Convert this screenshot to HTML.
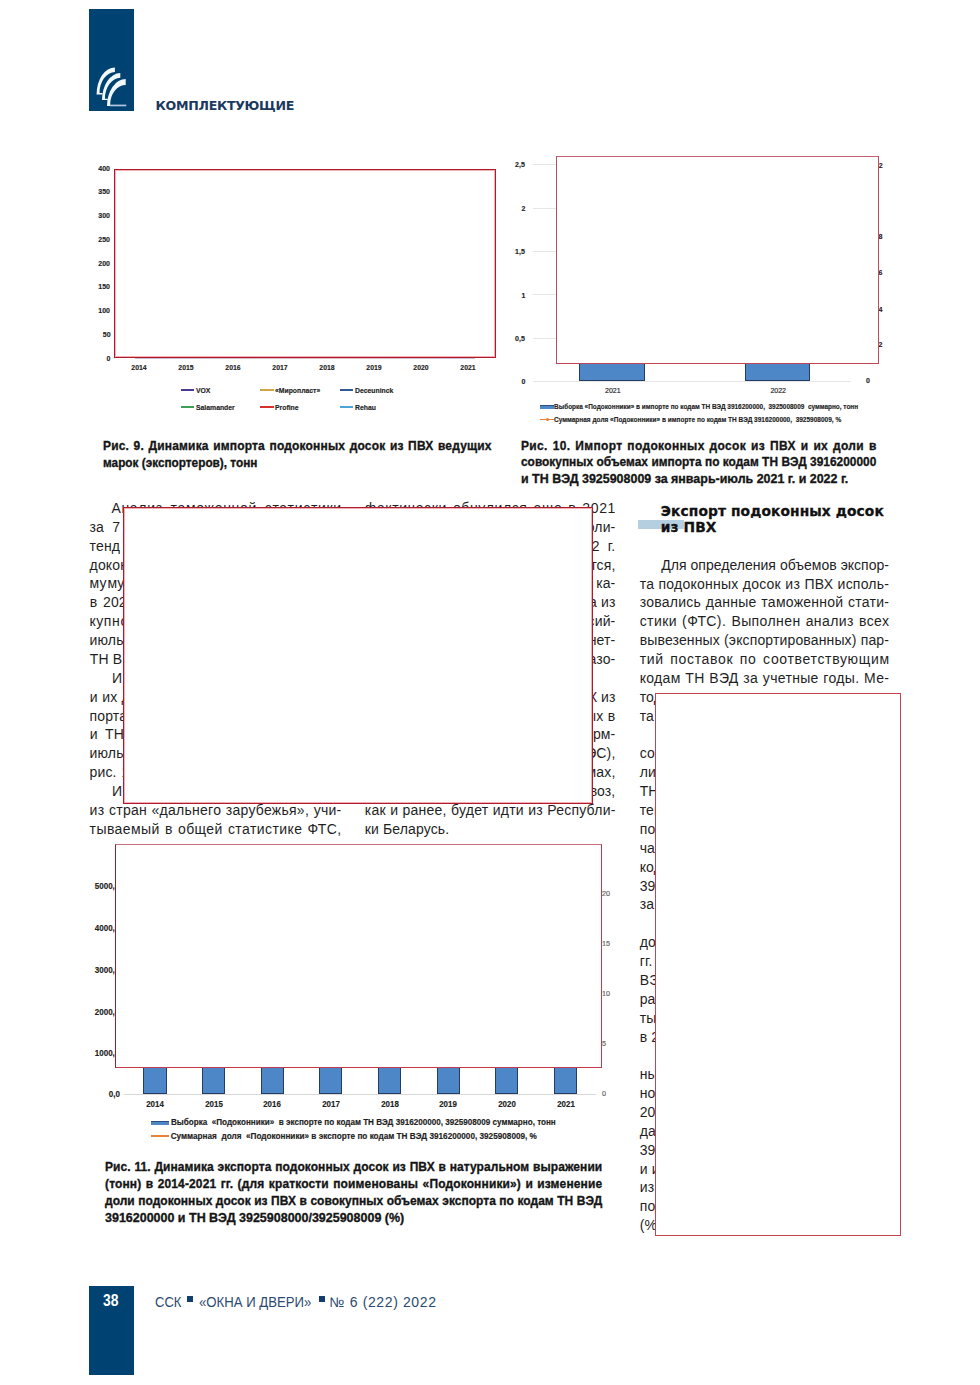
<!DOCTYPE html>
<html lang="ru">
<head>
<meta charset="utf-8">
<title>Комплектующие — экспорт и импорт подоконных досок из ПВХ</title>
<style>
html,body{margin:0;padding:0;background:#fff;}
body{width:980px;height:1385px;position:relative;overflow:hidden;font-family:"Liberation Sans",Arial,sans-serif;color:#1f1f1f;}
.a{position:absolute;white-space:nowrap;}
.box{position:absolute;background:#fff;box-sizing:border-box;}
.bd{border:1px solid #b01b2c;box-shadow:inset 0 0 0 1px rgba(232,96,112,.5);}
.bl{border:1.7px solid #c44252;}
.ck{position:absolute;font-family:"Liberation Sans",Arial,sans-serif;font-weight:bold;color:#222;white-space:nowrap;line-height:1;-webkit-text-stroke:0.15px #222;}
.t{position:absolute;white-space:nowrap;font-size:14px;letter-spacing:0.13px;line-height:16px;color:#1f1f1f;}
.jl{position:absolute;font-size:14px;line-height:16px;height:16px;color:#1f1f1f;text-align:justify;text-align-last:justify;white-space:nowrap;}
.cap{position:absolute;font-weight:bold;font-size:13.3px;line-height:15px;height:15px;color:#151515;-webkit-text-stroke:0.35px #151515;transform-origin:0 0;white-space:nowrap;}
.capj{text-align:justify;text-align-last:justify;white-space:nowrap;}
</style>
</head>
<body>
<div style="position:absolute;left:89px;top:9px;width:45px;height:102px;background:#004272;"></div>
<svg style="position:absolute;left:0;top:0" width="140" height="115" viewBox="0 0 140 115">
  <g fill="#f2f7fc">
    <path d="M114.9,67.4 A18.3,27 0 0 0 96.6,94.4 L102.4,94.4 L102.4,93 L99.5,93 A15.4,20.9 0 0 1 114.9,72.1 Z"/>
    <path transform="translate(5.4,5.7)" d="M114.9,67.4 A18.3,27 0 0 0 96.6,94.4 L102.4,94.4 L102.4,93 L99.5,93 A15.4,20.9 0 0 1 114.9,72.1 Z"/>
    <path d="M125.7,79 A18.7,27 0 0 0 107,106 L110.2,106 L110.2,104.5 A15.5,19.6 0 0 1 125.7,84.9 Z"/>
  </g>
  <rect x="110" y="104.6" width="16.3" height="1.7" fill="#b2c8e0"/>
</svg>
<div class="a" style="left:155.6px;top:97.6px;font-family:'DejaVu Sans',sans-serif;font-size:12.6px;line-height:16px;font-weight:bold;letter-spacing:-0.3px;color:#1b395e;">КОМПЛЕКТУЮЩИЕ</div>
<div class="ck" style="right:869.60px;transform-origin:100% 0;top:164.59px;font-size:7.8px;transform:scaleX(0.9);">400</div>
<div class="ck" style="right:869.60px;transform-origin:100% 0;top:188.37px;font-size:7.8px;transform:scaleX(0.9);">350</div>
<div class="ck" style="right:869.60px;transform-origin:100% 0;top:212.15px;font-size:7.8px;transform:scaleX(0.9);">300</div>
<div class="ck" style="right:869.60px;transform-origin:100% 0;top:235.93px;font-size:7.8px;transform:scaleX(0.9);">250</div>
<div class="ck" style="right:869.60px;transform-origin:100% 0;top:259.71px;font-size:7.8px;transform:scaleX(0.9);">200</div>
<div class="ck" style="right:869.60px;transform-origin:100% 0;top:283.49px;font-size:7.8px;transform:scaleX(0.9);">150</div>
<div class="ck" style="right:869.60px;transform-origin:100% 0;top:307.27px;font-size:7.8px;transform:scaleX(0.9);">100</div>
<div class="ck" style="right:869.60px;transform-origin:100% 0;top:331.05px;font-size:7.8px;transform:scaleX(0.9);">50</div>
<div class="ck" style="right:869.60px;transform-origin:100% 0;top:354.83px;font-size:7.8px;transform:scaleX(0.9);">0</div>
<div class="ck" style="left:140.00px;transform-origin:0 0;top:363.99px;font-size:7.8px;transform:translateX(-50%) scaleX(0.88);">2014</div>
<div class="ck" style="left:187.00px;transform-origin:0 0;top:363.99px;font-size:7.8px;transform:translateX(-50%) scaleX(0.88);">2015</div>
<div class="ck" style="left:234.00px;transform-origin:0 0;top:363.99px;font-size:7.8px;transform:translateX(-50%) scaleX(0.88);">2016</div>
<div class="ck" style="left:281.00px;transform-origin:0 0;top:363.99px;font-size:7.8px;transform:translateX(-50%) scaleX(0.88);">2017</div>
<div class="ck" style="left:328.00px;transform-origin:0 0;top:363.99px;font-size:7.8px;transform:translateX(-50%) scaleX(0.88);">2018</div>
<div class="ck" style="left:375.00px;transform-origin:0 0;top:363.99px;font-size:7.8px;transform:translateX(-50%) scaleX(0.88);">2019</div>
<div class="ck" style="left:422.00px;transform-origin:0 0;top:363.99px;font-size:7.8px;transform:translateX(-50%) scaleX(0.88);">2020</div>
<div class="ck" style="left:469.00px;transform-origin:0 0;top:363.99px;font-size:7.8px;transform:translateX(-50%) scaleX(0.88);">2021</div>
<div style="position:absolute;left:135px;top:357.5px;width:340px;height:1.2px;background:linear-gradient(90deg,#5a3f7f,#7a4a60 30%,#a04a4a 60%,#5a4f8a);opacity:.35"></div>
<div style="position:absolute;left:180.8px;top:388.5px;width:13.7px;height:2px;background:#4b3a93;"></div>
<div class="ck" style="left:195.80px;transform-origin:0 0;top:386.69px;font-size:7.6px;transform:scaleX(0.9);">VOX</div>
<div style="position:absolute;left:260.4px;top:388.5px;width:13.7px;height:2px;background:#d1a548;"></div>
<div class="ck" style="left:275.40px;transform-origin:0 0;top:386.69px;font-size:7.6px;transform:scaleX(0.9);">«Миропласт»</div>
<div style="position:absolute;left:339.8px;top:388.5px;width:13.7px;height:2px;background:#2f5a92;"></div>
<div class="ck" style="left:354.80px;transform-origin:0 0;top:386.69px;font-size:7.6px;transform:scaleX(0.9);">Deceuninck</div>
<div style="position:absolute;left:180.8px;top:405.5px;width:13.7px;height:2px;background:#3e9e54;"></div>
<div class="ck" style="left:195.80px;transform-origin:0 0;top:403.69px;font-size:7.6px;transform:scaleX(0.9);">Salamander</div>
<div style="position:absolute;left:260.4px;top:405.5px;width:13.7px;height:2px;background:#d9302e;"></div>
<div class="ck" style="left:275.40px;transform-origin:0 0;top:403.69px;font-size:7.6px;transform:scaleX(0.9);">Profine</div>
<div style="position:absolute;left:339.8px;top:405.5px;width:13.7px;height:2px;background:#4aa6d6;"></div>
<div class="ck" style="left:354.80px;transform-origin:0 0;top:403.69px;font-size:7.6px;transform:scaleX(0.9);">Rehau</div>
<div class="box bd" style="left:114px;top:169px;width:382px;height:189px;"></div>
<div class="ck" style="right:455.10px;transform-origin:100% 0;top:161.49px;font-size:7.8px;transform:scaleX(0.9);">2,5</div>
<div style="position:absolute;left:533px;top:164.2px;width:23px;height:1px;background:#e6e6e6;"></div>
<div class="ck" style="right:455.10px;transform-origin:100% 0;top:204.89px;font-size:7.8px;transform:scaleX(0.9);">2</div>
<div style="position:absolute;left:533px;top:207.6px;width:23px;height:1px;background:#e6e6e6;"></div>
<div class="ck" style="right:455.10px;transform-origin:100% 0;top:248.29px;font-size:7.8px;transform:scaleX(0.9);">1,5</div>
<div style="position:absolute;left:533px;top:251.0px;width:23px;height:1px;background:#e6e6e6;"></div>
<div class="ck" style="right:455.10px;transform-origin:100% 0;top:291.69px;font-size:7.8px;transform:scaleX(0.9);">1</div>
<div style="position:absolute;left:533px;top:294.4px;width:23px;height:1px;background:#e6e6e6;"></div>
<div class="ck" style="right:455.10px;transform-origin:100% 0;top:335.09px;font-size:7.8px;transform:scaleX(0.9);">0,5</div>
<div style="position:absolute;left:533px;top:337.8px;width:23px;height:1px;background:#e6e6e6;"></div>
<div class="ck" style="right:455.10px;transform-origin:100% 0;top:378.49px;font-size:7.8px;transform:scaleX(0.9);">0</div>
<div style="position:absolute;left:533px;top:381.2px;width:318px;height:1px;background:#e6e6e6;"></div>
<div style="position:absolute;left:579.3px;top:355px;width:65.6px;height:25.5px;box-sizing:border-box;background:#4d87c7;border:1.3px solid #233e62;"></div>
<div style="position:absolute;left:744.8px;top:355px;width:65.7px;height:25.5px;box-sizing:border-box;background:#4d87c7;border:1.3px solid #233e62;"></div>
<div class="ck" style="left:605px;top:386.6px;font-size:7px;font-weight:normal;">2021</div>
<div class="ck" style="left:770.4px;top:386.6px;font-size:7px;font-weight:normal;">2022</div>
<div class="ck" style="right:97.40px;transform-origin:100% 0;top:161.99px;font-size:7.8px;transform:scaleX(0.9);">12</div>
<div class="ck" style="right:97.40px;transform-origin:100% 0;top:233.19px;font-size:7.8px;transform:scaleX(0.9);">8</div>
<div class="ck" style="right:97.40px;transform-origin:100% 0;top:269.49px;font-size:7.8px;transform:scaleX(0.9);">6</div>
<div class="ck" style="right:97.40px;transform-origin:100% 0;top:305.79px;font-size:7.8px;transform:scaleX(0.9);">4</div>
<div class="ck" style="right:97.40px;transform-origin:100% 0;top:341.49px;font-size:7.8px;transform:scaleX(0.9);">2</div>
<div class="ck" style="left:865.80px;transform-origin:0 0;top:377.29px;font-size:7.8px;transform:scaleX(0.9);">0</div>
<div style="position:absolute;left:540px;top:405px;width:14px;height:4px;background:#4d87c7;border-top:1px solid #2a4f7c;box-sizing:border-box;"></div>
<div class="ck" style="left:554px;top:403.3px;font-size:7px;color:#222;transform:scaleX(0.92);transform-origin:0 0;">Выборка «Подоконники» в импорте по кодам ТН ВЭД 3916200000,&nbsp; 3925008009&nbsp; суммарно, тонн</div>
<div style="position:absolute;left:540px;top:418.8px;width:14px;height:1.6px;background:#e8823a;"></div>
<div style="position:absolute;left:545.5px;top:417.6px;width:3px;height:3px;background:#e8823a;border-radius:50%;"></div>
<div class="ck" style="left:554px;top:416.3px;font-size:7px;color:#222;transform:scaleX(0.928);transform-origin:0 0;">Суммарная доля «Подоконники» в импорте по кодам ТН ВЭД 3916200000,&nbsp; 3925908009, %</div>
<div class="box bl" style="left:555.5px;top:155.5px;width:323px;height:208.5px;border-color:#c4606f #c24c5e #c24457 #ae5464;"></div>
<div class="cap capj" style="left:103.3px;top:438.39px;width:431.9px;letter-spacing:0.222px;transform:scaleX(0.9000);">Рис. 9. Динамика импорта подоконных досок из ПВХ ведущих</div>
<div class="cap" style="left:103.3px;top:455.19px;transform:scaleX(0.8870);">марок (экспортеров), тонн</div>
<div class="cap capj" style="left:521.4px;top:437.79px;width:395.2px;letter-spacing:0.396px;transform:scaleX(0.9000);">Рис. 10. Импорт подоконных досок из ПВХ и их доли в</div>
<div class="cap capj" style="left:521.4px;top:454.29px;width:397.8px;letter-spacing:0.020px;transform:scaleX(0.8931);">совокупных объемах импорта по кодам ТН ВЭД 3916200000</div>
<div class="cap" style="left:521.4px;top:470.89px;transform:scaleX(0.9360);">и ТН ВЭД 3925908009 за январь-июль 2021 г. и 2022 г.</div>
<div class="jl" style="left:111.4px;width:230.5px;top:499.98px;letter-spacing:0.705px;">Анализ таможенной статистики</div>
<div class="t" style="left:89.5px;top:518.85px;">за</div>
<div class="t" style="left:112.3px;top:518.85px;">7</div>
<div class="t" style="left:89.6px;top:537.72px;">тенд</div>
<div class="t" style="left:89.6px;top:556.59px;">докон</div>
<div class="t" style="left:89.6px;top:575.46px;">му</div>
<div class="t" style="left:107.4px;top:575.46px;">му</div>
<div class="t" style="left:89.8px;top:594.33px;">в</div>
<div class="t" style="left:103.0px;top:594.33px;">202</div>
<div class="t" style="left:89.4px;top:613.20px;letter-spacing:0.6px;">купно</div>
<div class="t" style="left:89.6px;top:632.07px;">июль</div>
<div class="t" style="left:89.8px;top:650.94px;">ТН</div>
<div class="t" style="left:112.8px;top:650.94px;">В</div>
<div class="t" style="left:111.9px;top:669.81px;">И</div>
<div class="t" style="left:89.8px;top:688.68px;">и</div>
<div class="t" style="left:102.2px;top:688.68px;">их</div>
<div class="t" style="left:121.6px;top:688.68px;">д</div>
<div class="t" style="left:89.6px;top:707.55px;">порта</div>
<div class="t" style="left:89.8px;top:726.42px;">и</div>
<div class="t" style="left:105.0px;top:726.42px;">ТН</div>
<div class="t" style="left:89.6px;top:745.29px;">июль</div>
<div class="t" style="left:89.6px;top:764.16px;">рис.</div>
<div class="t" style="left:121.5px;top:764.16px;">1</div>
<div class="t" style="left:111.9px;top:783.03px;">И</div>
<div class="jl" style="left:89.6px;width:251.9px;top:801.90px;letter-spacing:0.260px;">из стран «дальнего зарубежья», учи-</div>
<div class="jl" style="left:89.6px;width:252.0px;top:820.77px;letter-spacing:0.415px;">тываемый в общей статистике ФТС,</div>
<div class="jl" style="left:364.8px;width:251.2px;top:499.98px;letter-spacing:0.630px;">фактически обнулился еще в 2021</div>
<div class="t" style="right:364.6px;top:518.85px;">коли-</div>
<div class="t" style="right:380.4px;top:537.72px;">2</div>
<div class="t" style="right:364.7px;top:537.72px;">г.</div>
<div class="t" style="right:364.6px;top:556.59px;">отся,</div>
<div class="t" style="right:364.6px;top:575.46px;">ка-</div>
<div class="t" style="right:383.0px;top:594.33px;">а</div>
<div class="t" style="right:364.4px;top:594.33px;">из</div>
<div class="t" style="right:364.6px;top:613.20px;">сий-</div>
<div class="t" style="right:364.6px;top:632.07px;">нет-</div>
<div class="t" style="right:364.6px;top:650.94px;">азо-</div>
<div class="t" style="right:382.5px;top:688.68px;">Х</div>
<div class="t" style="right:364.4px;top:688.68px;">из</div>
<div class="t" style="right:376.6px;top:707.55px;">ых</div>
<div class="t" style="right:364.8px;top:707.55px;">в</div>
<div class="t" style="right:364.6px;top:726.42px;">рм-</div>
<div class="t" style="right:364.6px;top:745.29px;">ЭС),</div>
<div class="t" style="right:364.6px;top:764.16px;">мах,</div>
<div class="t" style="right:364.6px;top:783.03px;">воз,</div>
<div class="jl" style="left:364.8px;width:250.8px;top:801.90px;letter-spacing:0.229px;">как и ранее, будет идти из Республи-</div>
<div class="t" style="left:364.8px;top:820.77px;">ки Беларусь.</div>
<div class="jl" style="left:661.3px;width:227.7px;top:556.75px;letter-spacing:0.010px;">Для определения объемов экспор-</div>
<div class="jl" style="left:639.7px;width:249.5px;top:575.62px;letter-spacing:0.227px;">та подоконных досок из ПВХ исполь-</div>
<div class="jl" style="left:639.7px;width:249.6px;top:594.49px;letter-spacing:0.256px;">зовались данные таможенной стати-</div>
<div class="jl" style="left:639.7px;width:249.7px;top:613.36px;letter-spacing:0.407px;">стики (ФТС). Выполнен анализ всех</div>
<div class="jl" style="left:639.7px;width:249.4px;top:632.23px;letter-spacing:0.140px;">вывезенных (экспортированных) пар-</div>
<div class="jl" style="left:639.7px;width:250.0px;top:651.10px;letter-spacing:0.659px;">тий поставок по соответствующим</div>
<div class="jl" style="left:639.7px;width:249.6px;top:669.97px;letter-spacing:0.329px;">кодам ТН ВЭД за учетные годы. Ме-</div>
<div class="t" style="left:639.7px;top:688.84px;">тод</div>
<div class="t" style="left:639.7px;top:707.71px;">та</div>
<div class="t" style="left:639.7px;top:745.45px;">сов</div>
<div class="t" style="left:639.7px;top:764.32px;">лиз</div>
<div class="t" style="left:639.7px;top:783.19px;">ТН</div>
<div class="t" style="left:639.7px;top:802.06px;">тем</div>
<div class="t" style="left:639.7px;top:820.93px;">под</div>
<div class="t" style="left:639.7px;top:839.80px;">час</div>
<div class="t" style="left:639.7px;top:858.67px;">код</div>
<div class="t" style="left:639.7px;top:877.54px;">392</div>
<div class="t" style="left:639.7px;top:896.41px;">за</div>
<div class="t" style="left:639.7px;top:934.15px;">дол</div>
<div class="t" style="left:639.7px;top:953.02px;">гг.</div>
<div class="t" style="left:639.7px;top:971.89px;">ВЭД</div>
<div class="t" style="left:639.7px;top:990.76px;">раз</div>
<div class="t" style="left:639.7px;top:1009.63px;">ты</div>
<div class="t" style="left:639.7px;top:1028.50px;">в 2</div>
<div class="t" style="left:639.7px;top:1066.24px;">ны</div>
<div class="t" style="left:639.7px;top:1085.11px;">нов</div>
<div class="t" style="left:639.7px;top:1103.98px;">20</div>
<div class="t" style="left:639.7px;top:1122.85px;">дан</div>
<div class="t" style="left:639.7px;top:1141.72px;">392</div>
<div class="t" style="left:639.7px;top:1160.59px;">и и</div>
<div class="t" style="left:639.7px;top:1179.46px;">из</div>
<div class="t" style="left:639.7px;top:1198.33px;">под</div>
<div class="t" style="left:639.7px;top:1217.20px;">(%</div>
<div style="position:absolute;left:638px;top:520.2px;width:46px;height:8.6px;background:#b6cfe0;"></div>
<div class="a" style="left:660.8px;top:502.5px;letter-spacing:0.1px;font-family:'DejaVu Sans',sans-serif;font-weight:bold;font-size:13.8px;line-height:16px;color:#111;-webkit-text-stroke:0.3px #111;">Экспорт подоконных досок<br>из ПВХ</div>
<div class="box bd" style="left:123px;top:507px;width:470px;height:297px;"></div>
<div class="box bl" style="left:655px;top:693px;width:246px;height:543px;"></div>
<div class="ck" style="right:860.50px;transform-origin:100% 0;top:881.90px;font-size:8.6px;transform:scaleX(0.93);">5000,0</div>
<div class="ck" style="right:860.50px;transform-origin:100% 0;top:923.80px;font-size:8.6px;transform:scaleX(0.93);">4000,0</div>
<div class="ck" style="right:860.50px;transform-origin:100% 0;top:965.90px;font-size:8.6px;transform:scaleX(0.93);">3000,0</div>
<div class="ck" style="right:860.50px;transform-origin:100% 0;top:1007.60px;font-size:8.6px;transform:scaleX(0.93);">2000,0</div>
<div class="ck" style="right:860.50px;transform-origin:100% 0;top:1048.70px;font-size:8.6px;transform:scaleX(0.93);">1000,0</div>
<div class="ck" style="right:860.50px;transform-origin:100% 0;top:1090.00px;font-size:8.6px;transform:scaleX(0.93);">0,0</div>
<div style="position:absolute;left:124px;top:1093.5px;width:472px;height:1px;background:#d8d8d8;"></div>
<div style="position:absolute;left:143.4px;top:1060px;width:23.2px;height:34px;box-sizing:border-box;background:#4d87c7;border:1.3px solid #233e62;"></div>
<div class="ck" style="left:156.10px;transform-origin:0 0;top:1100.00px;font-size:8.8px;transform:translateX(-50%) scaleX(0.9);">2014</div>
<div style="position:absolute;left:202.1px;top:1060px;width:23.2px;height:34px;box-sizing:border-box;background:#4d87c7;border:1.3px solid #233e62;"></div>
<div class="ck" style="left:214.75px;transform-origin:0 0;top:1100.00px;font-size:8.8px;transform:translateX(-50%) scaleX(0.9);">2015</div>
<div style="position:absolute;left:260.7px;top:1060px;width:23.2px;height:34px;box-sizing:border-box;background:#4d87c7;border:1.3px solid #233e62;"></div>
<div class="ck" style="left:273.40px;transform-origin:0 0;top:1100.00px;font-size:8.8px;transform:translateX(-50%) scaleX(0.9);">2016</div>
<div style="position:absolute;left:319.3px;top:1060px;width:23.2px;height:34px;box-sizing:border-box;background:#4d87c7;border:1.3px solid #233e62;"></div>
<div class="ck" style="left:332.05px;transform-origin:0 0;top:1100.00px;font-size:8.8px;transform:translateX(-50%) scaleX(0.9);">2017</div>
<div style="position:absolute;left:378.0px;top:1060px;width:23.2px;height:34px;box-sizing:border-box;background:#4d87c7;border:1.3px solid #233e62;"></div>
<div class="ck" style="left:390.70px;transform-origin:0 0;top:1100.00px;font-size:8.8px;transform:translateX(-50%) scaleX(0.9);">2018</div>
<div style="position:absolute;left:436.6px;top:1060px;width:23.2px;height:34px;box-sizing:border-box;background:#4d87c7;border:1.3px solid #233e62;"></div>
<div class="ck" style="left:449.35px;transform-origin:0 0;top:1100.00px;font-size:8.8px;transform:translateX(-50%) scaleX(0.9);">2019</div>
<div style="position:absolute;left:495.3px;top:1060px;width:23.2px;height:34px;box-sizing:border-box;background:#4d87c7;border:1.3px solid #233e62;"></div>
<div class="ck" style="left:508.00px;transform-origin:0 0;top:1100.00px;font-size:8.8px;transform:translateX(-50%) scaleX(0.9);">2020</div>
<div style="position:absolute;left:553.9px;top:1060px;width:23.2px;height:34px;box-sizing:border-box;background:#4d87c7;border:1.3px solid #233e62;"></div>
<div class="ck" style="left:566.65px;transform-origin:0 0;top:1100.00px;font-size:8.8px;transform:translateX(-50%) scaleX(0.9);">2021</div>
<div class="ck" style="left:602px;top:890.1px;font-size:7.2px;font-weight:normal;color:#777;">20</div>
<div class="ck" style="left:602px;top:940.2px;font-size:7.2px;font-weight:normal;color:#777;">15</div>
<div class="ck" style="left:602px;top:990.3px;font-size:7.2px;font-weight:normal;color:#777;">10</div>
<div class="ck" style="left:602px;top:1040.0px;font-size:7.2px;font-weight:normal;color:#777;">5</div>
<div class="ck" style="left:602px;top:1089.9px;font-size:7.2px;font-weight:normal;color:#777;">0</div>
<div style="position:absolute;left:151.3px;top:1121px;width:17.4px;height:3.6px;background:#4d87c7;border-top:1px solid #2a4f7c;box-sizing:border-box;"></div>
<div class="ck" style="left:170.7px;top:1118.6px;font-size:8.2px;color:#222;transform:scaleX(0.99);transform-origin:0 0;">Выборка&nbsp; «Подоконники»&nbsp; в экспорте по кодам ТН ВЭД 3916200000, 3925908009 суммарно, тонн</div>
<div style="position:absolute;left:151.3px;top:1135.2px;width:17.4px;height:1.8px;background:#e8823a;"></div>
<div class="ck" style="left:170.7px;top:1132.8px;font-size:8.2px;color:#222;">Суммарная&nbsp; доля&nbsp; «Подоконники» в экспорте по кодам ТН ВЭД 3916200000, 3925908009, %</div>
<div class="box bl" style="left:114.5px;top:844px;width:487px;height:223.5px;border-color:#c8707e #c43a4c #c43a4c #8a2232;"></div>
<div class="cap capj" style="left:105.1px;top:1158.79px;width:552.5px;letter-spacing:0.087px;transform:scaleX(0.9000);">Рис. 11. Динамика экспорта подоконных досок из ПВХ в натуральном выражении</div>
<div class="cap capj" style="left:105.1px;top:1175.89px;width:552.6px;letter-spacing:0.174px;transform:scaleX(0.9000);">(тонн) в 2014-2021 гг. (для краткости поименованы «Подоконники») и изменение</div>
<div class="cap capj" style="left:105.1px;top:1192.99px;width:552.5px;letter-spacing:0.039px;transform:scaleX(0.9000);">доли подоконных досок из ПВХ в совокупных объемах экспорта по кодам ТН ВЭД</div>
<div class="cap" style="left:105.1px;top:1210.29px;transform:scaleX(0.9385);">3916200000 и ТН ВЭД 3925908000/3925908009 (%)</div>
<div style="position:absolute;left:89px;top:1286px;width:45px;height:89px;background:#004272;"></div>
<div class="a" style="left:102.6px;top:1291.7px;font-size:16px;font-weight:bold;color:#fff;line-height:18px;transform:scaleX(0.87);transform-origin:0 0;">38</div>
<div style="position:absolute;white-space:nowrap;font-size:14px;line-height:16px;color:#2b4a70;transform-origin:0 0;left:155.0px;top:1293.5px;transform:scaleX(0.93);">ССК</div>
<div style="position:absolute;left:187.2px;top:1296.2px;width:5.7px;height:5.7px;background:#123f6e;"></div>
<div style="position:absolute;white-space:nowrap;font-size:14px;line-height:16px;color:#2b4a70;transform-origin:0 0;left:199.0px;top:1293.5px;transform:scaleX(0.94);">«ОКНА И ДВЕРИ»</div>
<div style="position:absolute;left:319.4px;top:1295.8px;width:6.0px;height:6.2px;background:#123f6e;"></div>
<div style="position:absolute;white-space:nowrap;font-size:14px;line-height:16px;color:#2b4a70;transform-origin:0 0;left:329.6px;top:1293.5px;letter-spacing:0.62px;">№ 6 (222) 2022</div>
</body>
</html>
